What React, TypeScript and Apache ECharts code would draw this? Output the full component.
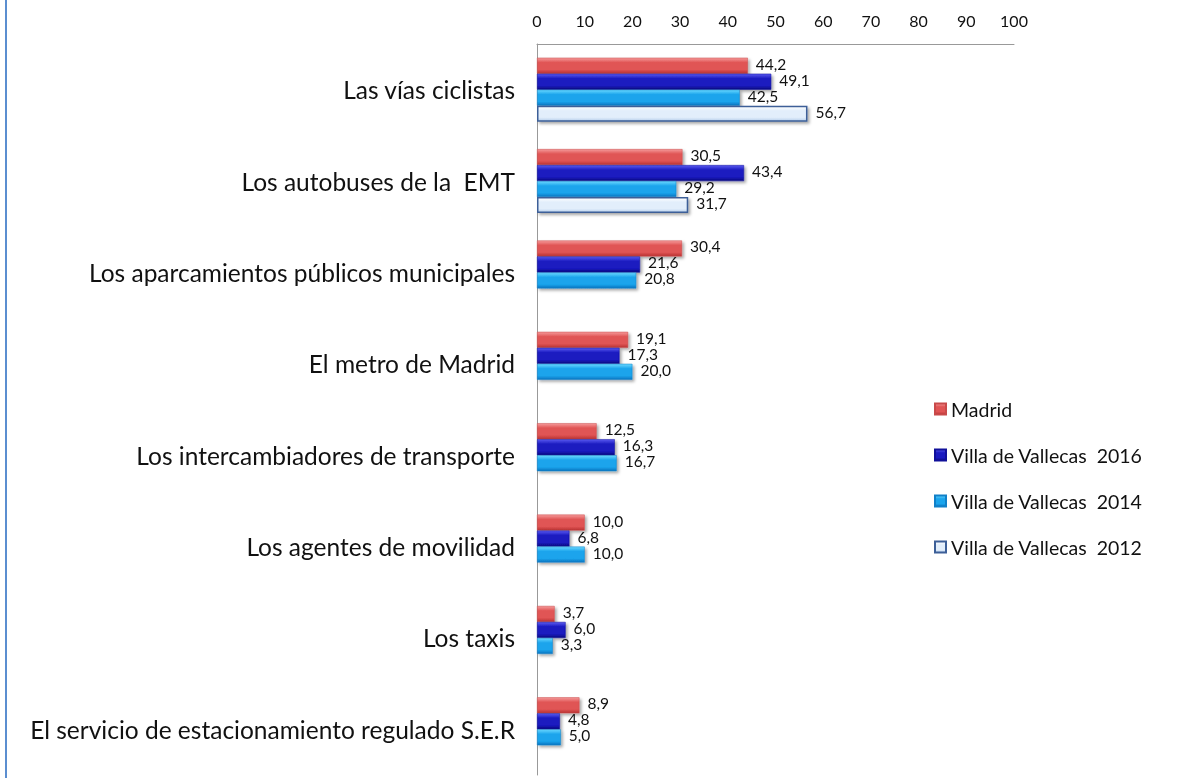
import React, { useEffect, useRef } from "react";
import * as echarts from "echarts";

const categories = [
  "Las vías ciclistas",
  "Los autobuses de la  EMT",
  "Los aparcamientos públicos municipales",
  "El metro de Madrid",
  "Los intercambiadores de transporte",
  "Los agentes de movilidad",
  "Los taxis",
  "El servicio de estacionamiento regulado S.E.R",
];
const seriesNames = ["Madrid", "Villa de Vallecas  2016", "Villa de Vallecas  2014", "Villa de Vallecas  2012"];
const madrid = [44.2, 30.5, 30.4, 19.1, 12.5, 10.0, 3.7, 8.9];
const vallecas2016 = [49.1, 43.4, 21.6, 17.3, 16.3, 6.8, 6.0, 4.8];
const vallecas2014 = [42.5, 29.2, 20.8, 20.0, 16.7, 10.0, 3.3, 5.0];
const vallecas2012 = [56.7, 31.7, null, null, null, null, null, null];

const grad = (top: string, mid: string, bottom: string) =>
  new echarts.graphic.LinearGradient(0, 0, 0, 1, [
    { offset: 0, color: top },
    { offset: 0.3, color: mid },
    { offset: 0.75, color: mid },
    { offset: 1, color: bottom },
  ]);

export default function App() {
  const ref = useRef<HTMLDivElement>(null);
  useEffect(() => {
    if (!ref.current) return;
    const chart = echarts.init(ref.current, undefined, { renderer: "svg" });
    const font = "Lato, 'Open Sans', sans-serif";
    const styles = [
      { color: grad("#f59a9a", "#e05454", "#b83232"), borderColor: "#c84a4a", borderWidth: 0.5 },
      { color: grad("#5a5af0", "#1a1ac0", "#0a0a80"), borderColor: "#10109a", borderWidth: 0.5 },
      { color: grad("#6ad8ff", "#1aa4ec", "#0a74c0"), borderColor: "#1080c8", borderWidth: 0.5 },
      { color: grad("#ffffff", "#e2eefb", "#b8d0ec"), borderColor: "#3c5f98", borderWidth: 1.5 },
    ];
    const datas = [madrid, vallecas2016, vallecas2014, vallecas2012];
    chart.setOption({
      animation: false,
      textStyle: { fontFamily: font },
      grid: { left: 537, right: 164, top: 44, bottom: 3, containLabel: false },
      legend: {
        orient: "vertical",
        left: 929,
        top: 394,
        itemWidth: 11,
        itemHeight: 11,
        itemGap: 26,
        icon: "rect",
        textStyle: { fontSize: 19.5, color: "#111", fontFamily: font },
        data: seriesNames,
      },
      xAxis: {
        type: "value",
        position: "top",
        min: 0,
        max: 100,
        interval: 10,
        axisLine: { show: true, lineStyle: { color: "#999", width: 1 } },
        axisTick: { show: false },
        splitLine: { show: false },
        axisLabel: { fontSize: 16, color: "#111", margin: 16, fontFamily: font },
      },
      yAxis: {
        type: "category",
        inverse: true,
        data: categories,
        axisLine: { show: true, lineStyle: { color: "#999", width: 1 } },
        axisTick: { show: false },
        axisLabel: { fontSize: 24.5, color: "#111", margin: 22, fontFamily: font },
      },
      series: datas.map((d, i) => ({
        name: seriesNames[i],
        type: "bar",
        data: d,
        barGap: "0%",
        barCategoryGap: "30%",
        itemStyle: {
          ...styles[i],
          shadowBlur: 3,
          shadowOffsetX: 2,
          shadowOffsetY: 2,
          shadowColor: "rgba(0,0,0,0.35)",
        },
        label: {
          show: true,
          position: "right",
          distance: 8,
          offset: [0, -2],
          fontSize: 15.5,
          lineHeight: 13,
          color: "#111",
          fontFamily: font,
          formatter: (p: any) => (p.value == null ? "" : Number(p.value).toFixed(1).replace(".", ",")),
        },
      })),
      graphic: [
        {
          type: "line",
          shape: { x1: 6, y1: 0, x2: 6, y2: 778 },
          style: { stroke: "#5b8ed0", lineWidth: 2 },
        },
      ],
    });
    return () => chart.dispose();
  }, []);
  return <div ref={ref} style={{ width: 1178, height: 778, position: "fixed", left: 0, top: 0 }} />;
}
